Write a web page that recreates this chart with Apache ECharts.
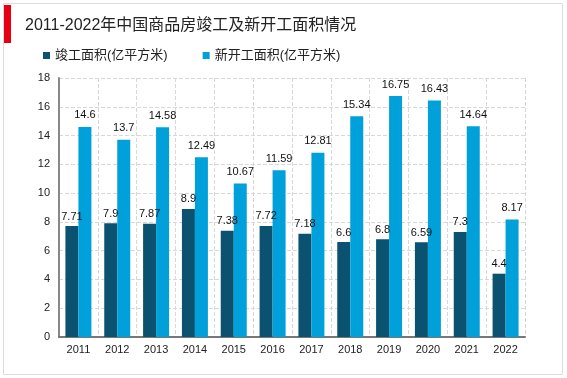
<!DOCTYPE html>
<html><head><meta charset="utf-8">
<script src="https://cdn.jsdelivr.net/npm/echarts@6/dist/echarts.min.js"></script>
<style>html,body{margin:0;padding:0;background:#fff}#c{width:567px;height:378px}</style>
</head><body><div id="c"></div>
<script>
const titleText = '2011-2022年中国商品房竣工及新开工面积情况';
const categories = ['2011','2012','2013','2014','2015','2016','2017','2018','2019','2020','2021','2022'];
const seriesNames = ['竣工面积(亿平方米)', '新开工面积(亿平方米)'];
const completed = [7.71, 7.9, 7.87, 8.9, 7.38, 7.72, 7.18, 6.6, 6.8, 6.59, 7.3, 4.4];
const newStarts = [14.6, 13.7, 14.58, 12.49, 10.67, 11.59, 12.81, 15.34, 16.75, 16.43, 14.64, 8.17];
const yTicks = [0, 2, 4, 6, 8, 10, 12, 14, 16, 18];

const font = '"Liberation Sans", Arial, "Noto Sans CJK SC", sans-serif';
const chart = echarts.init(document.getElementById('c'));
chart.setOption({
  animation: false,
  textStyle: { fontFamily: font },
  graphic: [
    { type: 'rect', shape: { x: 3.5, y: 3.5, width: 559, height: 371 }, style: { fill: 'none', stroke: '#dcdcdc', lineWidth: 1 } },
    { type: 'rect', shape: { x: 4, y: 5, width: 7, height: 38 }, style: { fill: '#e60012' } },
    { type: 'text', left: 25, top: 18, style: { text: titleText, fill: '#222', font: '16px ' + font } }
  ],
  legend: {
    left: 38, top: 44, itemWidth: 7, itemHeight: 7, itemGap: 35, icon: 'rect',
    textStyle: { fontSize: 13, color: '#222', fontFamily: font },
    data: seriesNames
  },
  grid: { left: 59, right: 42, top: 78, bottom: 41 },
  xAxis: {
    type: 'category', data: categories,
    axisLine: { lineStyle: { color: '#777', width: 2 } },
    axisTick: { show: false },
    axisLabel: { color: '#222', fontSize: 11, margin: 7 },
    splitLine: { show: true, lineStyle: { color: '#d8d8d8', type: 'dashed' } }
  },
  yAxis: {
    type: 'value', min: yTicks[0], max: yTicks[yTicks.length - 1], interval: 2,
    axisLine: { show: true, lineStyle: { color: '#888', width: 2 } },
    axisTick: { show: false },
    axisLabel: { color: '#222', fontSize: 11, margin: 9 },
    splitLine: { show: true, lineStyle: { color: '#d8d8d8', type: 'dashed' } }
  },
  series: [
    { name: seriesNames[0], type: 'bar', data: completed, barWidth: 13, barGap: '0%',
      itemStyle: { color: '#0b5270' },
      label: { show: true, position: 'top', color: '#111', fontSize: 11, distance: 4 } },
    { name: seriesNames[1], type: 'bar', data: newStarts, barWidth: 13, barGap: '0%',
      itemStyle: { color: '#00a1da' },
      label: { show: true, position: 'top', color: '#111', fontSize: 11, distance: 6 } }
  ]
});
</script></body></html>
